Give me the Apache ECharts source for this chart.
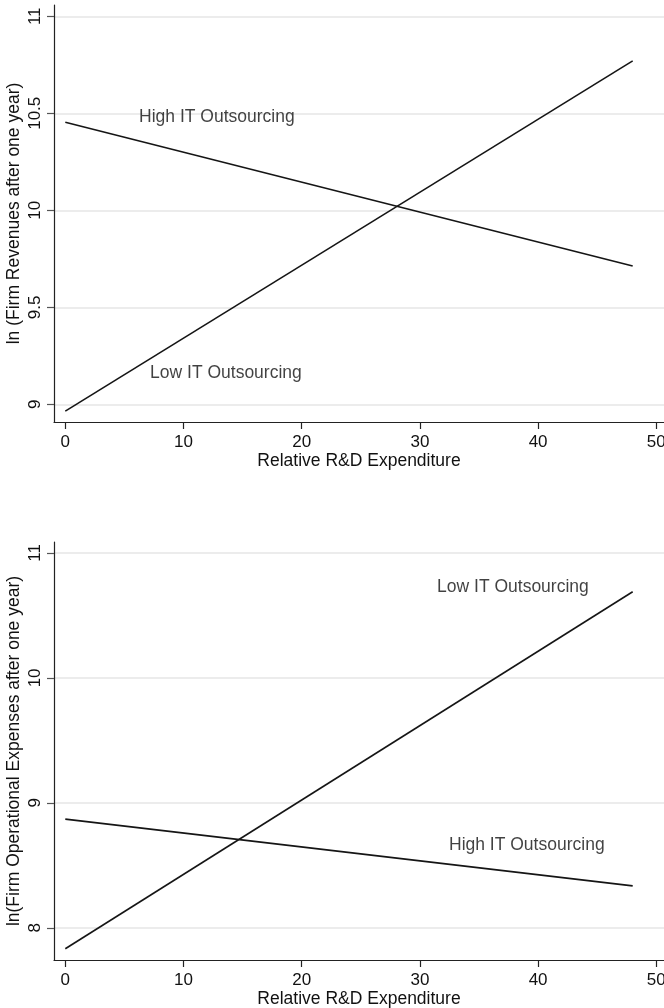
<!DOCTYPE html>
<html>
<head>
<meta charset="utf-8">
<script src="https://cdn.jsdelivr.net/npm/echarts@6/dist/echarts.min.js"></script>
<style>
  html, body { margin: 0; padding: 0; background: #fff; }
  #chart { width: 664px; height: 1008px; }
</style>
</head>
<body>
<div id="chart"></div>
<script>
// Relative R&D expenditure at the two ends of each fitted line
const rdExpenditure = [0, 48];

// Panel 1: ln(Firm Revenues after one year)
const revenueHighIT = [10.454, 9.713];
const revenueLowIT = [8.965, 10.770];

// Panel 2: ln(Firm Operational Expenses after one year)
const opexHighIT = [8.870, 8.335];
const opexLowIT = [7.832, 10.690];

// Tick values
const xTicks = [0, 10, 20, 30, 40, 50];
const revenueTicks = [9, 9.5, 10, 10.5, 11];
const opexTicks = [8, 9, 10, 11];

// In-plot line labels: [text, x, y]
const revenueNotes = [
  ['High IT Outsourcing', 6.24, 10.482],
  ['Low IT Outsourcing', 7.17, 9.160]
];
const opexNotes = [
  ['Low IT Outsourcing', 31.45, 10.73],
  ['High IT Outsourcing', 32.46, 8.664]
];

const FONT = '"Liberation Sans", Arial, Helvetica, sans-serif';
const TEXT = '#111';
const LINE = '#151515';

function pairs(xs, ys) {
  return xs.map((x, i) => [x, ys[i]]);
}

function xAxisFor(gridIndex) {
  return {
    type: 'value',
    gridIndex: gridIndex,
    min: -0.956,
    max: 50.65,
    name: 'Relative R&D Expenditure',
    nameLocation: 'middle',
    nameGap: 30,
    nameMoveOverlap: false,
    nameTextStyle: { fontFamily: FONT, fontSize: 17.5, color: TEXT },
    axisLine: { show: true, onZero: false, lineStyle: { color: '#222', width: 1.2 } },
    axisTick: { show: true, length: 7, customValues: xTicks, lineStyle: { color: '#222', width: 1.2 } },
    axisLabel: { customValues: xTicks, margin: 12, fontFamily: FONT, fontSize: 17, color: TEXT, hideOverlap: false },
    splitLine: { show: false }
  };
}

function yAxisFor(gridIndex, name, ticks, min, max) {
  return {
    type: 'value',
    gridIndex: gridIndex,
    min: min,
    max: max,
    name: name,
    nameLocation: 'middle',
    nameRotate: 90,
    nameGap: 31,
    nameMoveOverlap: false,
    nameTextStyle: { fontFamily: FONT, fontSize: 17.5, color: TEXT },
    axisLine: { show: true, onZero: false, lineStyle: { color: '#222', width: 1.2 } },
    axisTick: { show: true, length: 7, customValues: ticks, lineStyle: { color: '#555', width: 1.2 } },
    axisLabel: { customValues: ticks, rotate: 90, margin: 10, fontFamily: FONT, fontSize: 17, color: TEXT, hideOverlap: false },
    splitLine: { show: true, lineStyle: { color: '#e6e6e6', width: 1.5 } }
  };
}

function lineSeries(idx, ys) {
  return {
    type: 'line',
    xAxisIndex: idx,
    yAxisIndex: idx,
    data: pairs(rdExpenditure, ys),
    symbol: 'none',
    silent: true,
    lineStyle: { color: LINE, width: 1.6 }
  };
}

function noteSeries(idx, notes) {
  return {
    type: 'scatter',
    xAxisIndex: idx,
    yAxisIndex: idx,
    symbolSize: 0,
    silent: true,
    data: notes.map(n => ({ value: [n[1], n[2]], name: n[0] })),
    label: {
      show: true,
      position: 'right',
      distance: 0,
      formatter: p => p.name,
      fontFamily: FONT,
      fontSize: 17.5,
      color: TEXT
    }
  };
}

const chart = echarts.init(document.getElementById('chart'), null, { renderer: 'canvas' });
chart.setOption({
  backgroundColor: '#fff',
  animation: false,
  grid: [
    { left: 54, right: 0, top: 5, height: 417, containLabel: false, outerBoundsMode: 'none' },
    { left: 54, right: 0, top: 542, height: 418, containLabel: false, outerBoundsMode: 'none' }
  ],
  xAxis: [xAxisFor(0), xAxisFor(1)],
  yAxis: [
    yAxisFor(0, 'ln (Firm Revenues after one year)', revenueTicks, 8.909, 11.058),
    yAxisFor(1, 'ln(Firm Operational Expenses after one year)', opexTicks, 7.742, 11.088)
  ],
  series: [
    lineSeries(0, revenueHighIT),
    lineSeries(0, revenueLowIT),
    noteSeries(0, revenueNotes),
    lineSeries(1, opexLowIT),
    lineSeries(1, opexHighIT),
    noteSeries(1, opexNotes)
  ]
});
</script>
</body>
</html>
